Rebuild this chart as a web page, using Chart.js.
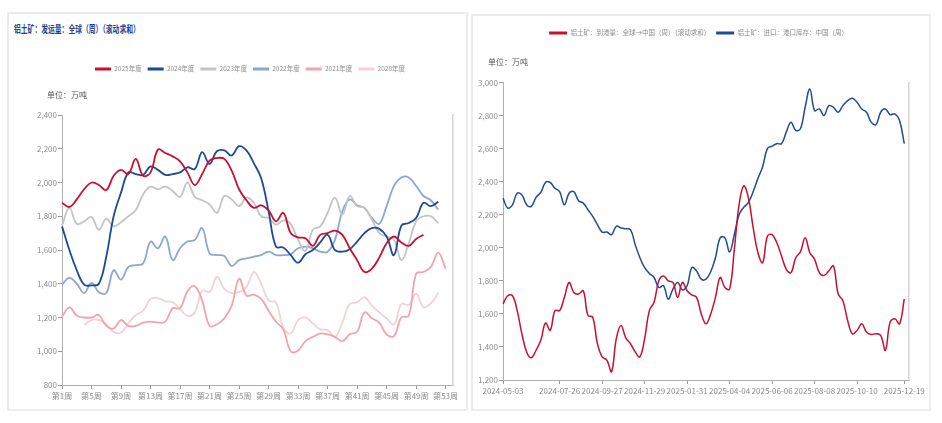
<!DOCTYPE html>
<html>
<head>
<meta charset="utf-8">
<script src="https://cdn.jsdelivr.net/npm/chart.js@4.4.0/dist/chart.umd.min.js"></script>
<style>
  body { margin: 0; background: #fff; width: 942px; height: 423px; position: relative; overflow: hidden; }
  .panel { position: absolute; border: 2px solid #ececec; box-sizing: border-box; }
  .title { position: absolute; left: 14px; top: 21px; font: bold 10px "Noto Sans CJK SC", sans-serif; color: #1f3f8f;
           white-space: nowrap; transform: scaleX(0.68); transform-origin: left center; }
  canvas { position: absolute; }
</style>
</head>
<body>
<div class="panel" style="left:7px;top:12px;width:461px;height:399px;"></div>
<div class="panel" style="left:471px;top:14px;width:460px;height:397px;"></div>
<div class="title">铝土矿：发运量：全球（周）（滚动求和）</div>
<canvas id="shipments" width="458" height="396" style="left:9px;top:14px;"></canvas>
<canvas id="arrivals" width="455" height="394" style="left:474px;top:16px;"></canvas>
<script>
// left chart: global weekly shipments by year (万吨)
const weekLabels = [];
for (let w = 1; w <= 54; w++) weekLabels.push("第" + w + "周");

const ship2025 = [1880, 1855, 1900, 1960, 2000, 1985, 1955, 2040, 2075, 2050,
  2140, 2040, 2060, 2195, 2175, 2155, 2125, 2060, 1985, 2050,
  2130, 2145, 2140, 2070, 1960, 1895, 1850, 1865, 1835, 1770,
  1820, 1700, 1675, 1670, 1625, 1690, 1700, 1715, 1690, 1610,
  1540, 1470, 1490, 1555, 1640, 1680, 1645, 1625, 1665, 1690];
const ship2024 = [1740, 1600, 1480, 1395, 1390, 1400, 1560, 1800, 1940, 2060,
  2050, 2045, 2095, 2075, 2045, 2050, 2060, 2090, 2080, 2180,
  2110, 2185, 2190, 2160, 2215, 2190, 2115, 2025, 1830, 1620,
  1615, 1570, 1525, 1575, 1600, 1645, 1690, 1600, 1590, 1605,
  1650, 1700, 1730, 1725, 1680, 1570, 1745, 1760, 1790, 1880,
  1860, 1885];
const ship2023 = [1745, 1850, 1755, 1770, 1795, 1720, 1785, 1740, 1765, 1800,
  1835, 1930, 1975, 1960, 1975, 1950, 1915, 2000, 1915, 1895,
  1870, 1820, 1920, 1900, 1860, 1910, 1880, 1800, 1790, 1750,
  1775, 1755, 1660, 1595, 1720, 1740, 1820, 1910, 1810, 1920,
  1860, 1850, 1780, 1700, 1680, 1660, 1540, 1640, 1770, 1800,
  1800, 1760];
const ship2022 = [1395, 1435, 1400, 1345, 1405, 1350, 1345, 1480, 1425, 1500,
  1510, 1520, 1650, 1610, 1680, 1540, 1610, 1650, 1660, 1730,
  1580, 1570, 1565, 1505, 1540, 1550, 1560, 1570, 1590, 1570,
  1570, 1575, 1610, 1620, 1610, 1590, 1590, 1660, 1830, 1900,
  1865, 1850, 1790, 1755, 1860, 1980, 2030, 2030, 1980, 1920,
  1895, 1840];
const ship2021 = [1205, 1260, 1210, 1200, 1200, 1215, 1150, 1135, 1185, 1150,
  1150, 1170, 1175, 1170, 1175, 1255, 1255, 1355, 1385, 1300,
  1150, 1160, 1195, 1270, 1430, 1330, 1335, 1310, 1240, 1175,
  1130, 1000, 1005, 1060, 1085, 1105, 1100, 1085, 1060, 1100,
  1115, 1230, 1195, 1170, 1100, 1090, 1200, 1210, 1460, 1470,
  1500, 1585, 1490];
const ship2020 = [null, null, null, 1155, 1185, 1185, 1160, 1115, 1110, 1165,
  1215, 1240, 1310, 1315, 1295, 1290, 1250, 1210, 1230, 1360,
  1350, 1440, 1370, 1345, 1350, 1380, 1470, 1400, 1300, 1290,
  1140, 1105, 1185, 1200, 1165, 1130, 1125, 1085, 1170, 1280,
  1290, 1320, 1270, 1230, 1195, 1160, 1280, 1275, 1340, 1260,
  1285, 1345];

// right chart: weekly arrivals to China and port inventory (万吨)
const weekDates = [
  "2024-05-03", "2024-05-10", "2024-05-17", "2024-05-24", "2024-05-31", "2024-06-07", "2024-06-14", "2024-06-21",
  "2024-06-28", "2024-07-05", "2024-07-12", "2024-07-19", "2024-07-26", "2024-08-02", "2024-08-09", "2024-08-16",
  "2024-08-23", "2024-08-30", "2024-09-06", "2024-09-13", "2024-09-20", "2024-09-27", "2024-10-04", "2024-10-11",
  "2024-10-18", "2024-10-25", "2024-11-01", "2024-11-08", "2024-11-15", "2024-11-22", "2024-11-29", "2024-12-06",
  "2024-12-13", "2024-12-20", "2024-12-27", "2025-01-03", "2025-01-10", "2025-01-17", "2025-01-24", "2025-01-31",
  "2025-02-07", "2025-02-14", "2025-02-21", "2025-02-28", "2025-03-07", "2025-03-14", "2025-03-21", "2025-03-28",
  "2025-04-04", "2025-04-11", "2025-04-18", "2025-04-25", "2025-05-02", "2025-05-09", "2025-05-16", "2025-05-23",
  "2025-05-30", "2025-06-06", "2025-06-13", "2025-06-20", "2025-06-27", "2025-07-04", "2025-07-11", "2025-07-18",
  "2025-07-25", "2025-08-01", "2025-08-08", "2025-08-15", "2025-08-22", "2025-08-29", "2025-09-05", "2025-09-12",
  "2025-09-19", "2025-09-26", "2025-10-03", "2025-10-10", "2025-10-17", "2025-10-24", "2025-10-31", "2025-11-07",
  "2025-11-14", "2025-11-21", "2025-11-28", "2025-12-05", "2025-12-12", "2025-12-19", "2025-12-26"];
const shownDates = ["2024-05-03", "2024-07-26", "2024-09-27", "2024-11-29", "2025-01-31",
  "2025-04-04", "2025-06-06", "2025-08-08", "2025-10-10", "2025-12-19"];

const arrivalsChina = [1660, 1710, 1710, 1620, 1480, 1370, 1335, 1380, 1440, 1545,
  1500, 1620, 1620, 1700, 1790, 1730, 1720, 1740, 1590, 1580,
  1420, 1340, 1320, 1250, 1450, 1530, 1455, 1420, 1370, 1340,
  1450, 1620, 1670, 1800, 1830, 1800, 1790, 1700, 1790, 1740,
  1715, 1700, 1600, 1540, 1600, 1700, 1820, 1760, 1750, 1990,
  2260, 2375, 2300, 2120, 1970, 1910, 2070, 2080, 2030, 1950,
  1870, 1850, 1940, 1975, 2060, 1970, 1930, 1850, 1832, 1860,
  1890, 1720, 1680, 1560, 1480, 1500, 1540, 1490, 1475, 1480,
  1470, 1380, 1550, 1570, 1540, 1690];
const portStock = [2300, 2240, 2260, 2330, 2320, 2260, 2250, 2305, 2335, 2395,
  2395, 2360, 2340, 2260, 2330, 2340, 2285, 2270, 2230, 2190,
  2140, 2095, 2095, 2080, 2130, 2120, 2115, 2110, 2020, 1940,
  1880, 1845, 1820, 1760, 1770, 1690, 1750, 1790, 1745, 1770,
  1880, 1860, 1810, 1810, 1855, 1940, 2060, 2060, 1975, 2080,
  2200, 2245, 2275, 2340, 2420, 2490, 2600, 2615, 2630, 2630,
  2700, 2760, 2710, 2720, 2850, 2960, 2830, 2840, 2800, 2860,
  2850, 2820, 2860, 2890, 2905, 2880, 2840, 2820, 2760, 2745,
  2820, 2840, 2805, 2810, 2770, 2630];

const tickFont = { family: "'Liberation Sans Narrow', 'Noto Sans CJK SC', sans-serif", size: 8 };
const legendFont = { family: "'Liberation Sans Narrow', 'Noto Sans CJK SC', sans-serif", size: 6.5 };
const unitFont = { family: "'Noto Sans CJK SC', sans-serif", size: 8 };

function flatLegend(chart) {
  return Chart.defaults.plugins.legend.labels.generateLabels(chart).map((item) => {
    item.fillStyle = item.strokeStyle;
    item.lineWidth = 0;
    return item;
  });
}

function line(label, data, color, width) {
  return {
    label: label,
    data: data,
    borderColor: color,
    backgroundColor: color,
    borderWidth: width,
    pointRadius: 0,
    tension: 0.4,
    fill: false,
  };
}

function axisX(height, keep) {
  return {
    type: "category",
    grid: { display: true, drawOnChartArea: false, drawTicks: true, tickLength: 4, color: "#9a9a9a" },
    border: { color: "#b0b0b0", width: 1 },
    ticks: { autoSkip: false, maxRotation: 0, color: "#8c8c8c", font: tickFont, padding: 2 },
    afterBuildTicks: (scale) => {
      scale.ticks = scale.ticks.filter((t) => keep(t.value));
    },
    afterFit: (scale) => {
      scale.height = height;
    },
  };
}

function axisY(min, max, width) {
  return {
    min: min,
    max: max,
    grid: { display: true, drawOnChartArea: false, drawTicks: true, tickLength: 4, color: "#9a9a9a" },
    border: { color: "#b0b0b0", width: 1 },
    ticks: {
      stepSize: 200,
      color: "#8c8c8c",
      font: tickFont,
      padding: 1,
      callback: (v) => v.toLocaleString("en-US"),
    },
    afterFit: (scale) => {
      // narrow axis box; let the labels run into the left padding instead of clipping them
      scale.width = width;
      scale._computeLabelArea = () => undefined;
    },
  };
}

const rightBorder = {
  position: "right",
  grid: { display: false },
  ticks: { display: false },
  border: { color: "#d4d4d4", width: 1.5 },
  afterFit: (scale) => {
    scale.width = 0;
  },
};

new Chart(document.getElementById("shipments"), {
  type: "line",
  data: {
    labels: weekLabels,
    datasets: [
      line("2025年度", ship2025, "#c8102e", 1.8),
      line("2024年度", ship2024, "#1b4a97", 1.8),
      line("2023年度", ship2023, "#c4c4c4", 1.8),
      line("2022年度", ship2022, "#8ea6d2", 1.8),
      line("2021年度", ship2021, "#f4a3ab", 1.8),
      line("2020年度", ship2020, "#efd3d6", 1.8),
    ],
  },
  options: {
    responsive: false,
    animation: false,
    layout: { padding: { left: 38, right: 14, top: 45.75, bottom: 0 } },
    plugins: {
      legend: {
        labels: { boxWidth: 16, boxHeight: 3, padding: 6, color: "#8c8c8c", font: legendFont, generateLabels: flatLegend },
      },
      subtitle: {
        display: true,
        text: "单位：万吨",
        align: "start",
        color: "#555",
        font: unitFont,
        weight: 500,
        padding: { top: 7.95, bottom: 15.2 },
      },
      tooltip: { enabled: false },
    },
    scales: {
      x: axisX(25, (i) => i % 4 === 0),
      y: axisY(800, 2400, 15),
      yr: rightBorder,
    },
  },
});

new Chart(document.getElementById("arrivals"), {
  type: "line",
  data: {
    labels: weekDates,
    datasets: [
      line("铝土矿：到港量：全球→中国（周）（滚动求和）", arrivalsChina, "#c8102e", 1.5),
      line("铝土矿：进口：港口库存：中国（周）", portStock, "#1f4b99", 1.5),
    ],
  },
  options: {
    responsive: false,
    animation: false,
    layout: { padding: { left: 14, right: 20, top: 7.75, bottom: 0 } },
    plugins: {
      legend: {
        labels: { boxWidth: 18, boxHeight: 3, padding: 6, color: "#8c8c8c", font: legendFont, generateLabels: flatLegend },
      },
      subtitle: {
        display: true,
        text: "单位：万吨",
        align: "start",
        color: "#555",
        font: unitFont,
        weight: 500,
        padding: { top: 10.95, bottom: 15.7 },
      },
      tooltip: { enabled: false },
    },
    scales: {
      x: axisX(30, (i) => shownDates.includes(weekDates[i])),
      y: axisY(1200, 3000, 15),
      yr: rightBorder,
    },
  },
});
</script>
</body>
</html>
